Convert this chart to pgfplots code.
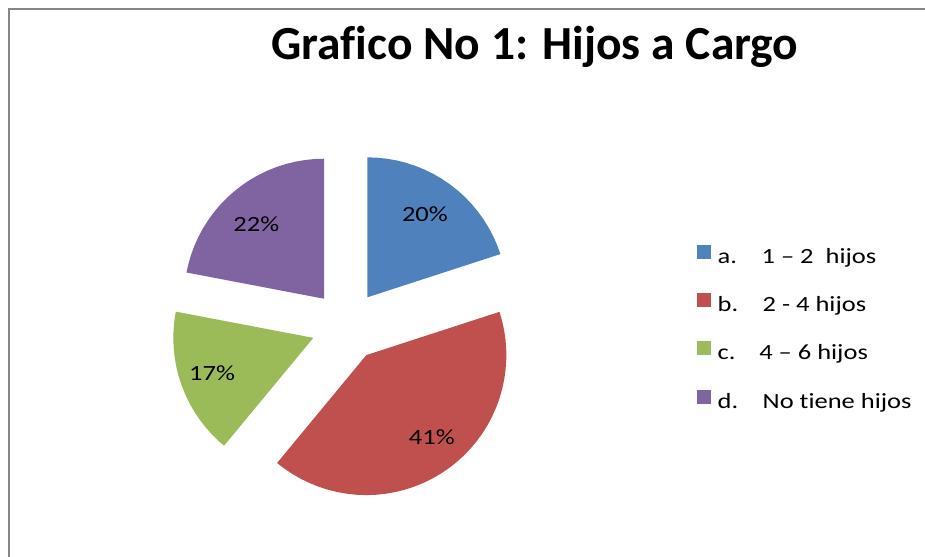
\documentclass[border=0pt]{standalone}
\usepackage{pgfplots}
\pgfplotsset{compat=1.18}
\usepgfplotslibrary{polar}
\usepackage{fontspec}
\setmainfont{Carlito}[FakeStretch=1.22, Ligatures={NoCommon}]
\newfontfamily\titlefont{Carlito}[Ligatures={NoCommon}]
\definecolor{cBlue}{HTML}{4F81BD}
\definecolor{cRed}{HTML}{C0504D}
\definecolor{cGreen}{HTML}{9BBB59}
\definecolor{cPurple}{HTML}{8064A2}
\definecolor{cFrame}{RGB}{134,134,134}
\newcommand{\lblfont}{\fontsize{21.7bp}{26bp}\selectfont}
\begin{document}
\begin{tikzpicture}
\useasboundingbox (0,0) rectangle (925bp,557bp);
\draw[line width=1.6bp, cFrame] (9bp,0) -- (9bp,548bp) -- (925bp,548bp);
\node[anchor=base, inner sep=0pt, font=\titlefont\fontsize{47.5bp}{50bp}\selectfont\bfseries] at (535bp,497.7bp) {Grafico No 1: Hijos a Cargo};
\begin{polaraxis}[
  at={(346.5bp,231.1bp)}, anchor=origin,
  scale only axis, width=280bp, height=280bp,
  hide axis, xmin=0, xmax=360, ymin=0, ymax=1,
  clip=false,
  legend cell align=left,
  legend image code/.code={\fill[draw=none,#1] (0bp,-0.5bp) rectangle (14bp,13.5bp); \path[draw=none,fill=none] (0bp,0bp) -- (21bp,0bp);},
  legend style={draw=none, fill=none, inner sep=0pt, outer sep=0pt,
    at={(axis description cs:1.7507,0.7888)}, anchor=north west,
    font=\lblfont, row sep=25.7bp, column sep=0pt,
    nodes={inner sep=0pt, text height=14bp, text depth=4bp}},
]
% a. 1-2 hijos : 20%
\addplot[draw=none, fill=cBlue, xshift=20.75bp, yshift=28.56bp, forget plot] coordinates {
(0,0) (90,1) (86,1) (82,1) (78,1) (74,1) (70,1) (66,1) (62,1) (58,1) (54,1) (50,1) (46,1) (42,1) (38,1) (34,1) (30,1) (26,1) (22,1) (18,1)};
% b. 2-4 hijos : 41%
\addplot[draw=none, fill=cRed, xshift=19.84bp, yshift=-29.19bp, forget plot] coordinates {
(0,0) (18,1) (14,1) (10,1) (6,1) (2,1) (-2,1) (-6,1) (-10,1) (-14,1) (-18,1) (-22,1) (-26,1) (-30,1) (-34,1) (-38,1) (-42,1) (-46,1) (-50,1) (-54,1) (-58,1) (-62,1) (-66,1) (-70,1) (-74,1) (-78,1) (-82,1) (-86,1) (-90,1) (-94,1) (-98,1) (-102,1) (-106,1) (-110,1) (-114,1) (-118,1) (-122,1) (-126,1) (-129.6,1)};
% c. 4-6 hijos : 17%
\addplot[draw=none, fill=cGreen, xshift=-33.2bp, yshift=-11.96bp, forget plot] coordinates {
(0,0) (-129.6,1) (-132,1) (-136,1) (-140,1) (-144,1) (-148,1) (-152,1) (-156,1) (-160,1) (-164,1) (-168,1) (-172,1) (-176,1) (-180,1) (-184,1) (-188,1) (-190.8,1)};
% d. No tiene hijos : 22%
\addplot[draw=none, fill=cPurple, xshift=-22.49bp, yshift=27.18bp, forget plot] coordinates {
(0,0) (169.2,1) (166,1) (162,1) (158,1) (154,1) (150,1) (146,1) (142,1) (138,1) (134,1) (130,1) (126,1) (122,1) (118,1) (114,1) (110,1) (106,1) (102,1) (98,1) (94,1) (90,1)};
\node[font=\lblfont, xshift=20.75bp, yshift=28.56bp] at (axis cs:55.3,0.724) {20\%};
\node[font=\lblfont, xshift=19.84bp, yshift=-29.19bp] at (axis cs:-51.4,0.75) {41\%};
\node[font=\lblfont, xshift=-33.2bp, yshift=-11.96bp] at (axis cs:199.3,0.766) {17\%};
\node[font=\lblfont, xshift=-22.49bp, yshift=27.18bp] at (axis cs:132.2,0.72) {22\%};
\addlegendimage{fill=cBlue}
\addlegendentry{\makebox[44bp][l]{a.}1 – 2\ \ hijos}
\addlegendimage{fill=cRed}
\addlegendentry{\makebox[45bp][l]{b.}2 - 4 hijos}
\addlegendimage{fill=cGreen}
\addlegendentry{\makebox[41.6bp][l]{c.}4 – 6 hijos}
\addlegendimage{fill=cPurple}
\addlegendentry{\makebox[45bp][l]{d.}No tiene hijos}
\end{polaraxis}
\end{tikzpicture}
\end{document}
